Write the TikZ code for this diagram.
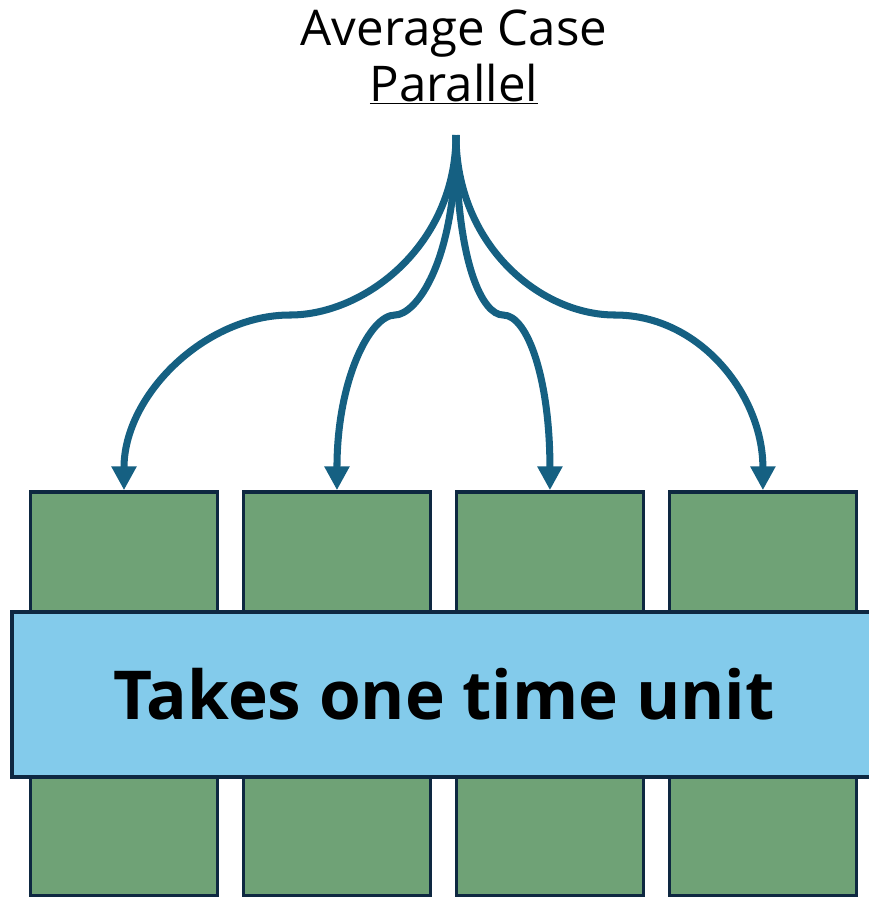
\documentclass[tikz,border=0pt]{standalone}
\usepackage{fontspec}
\setmainfont{Open Sans}
\usetikzlibrary{positioning, arrows.meta}
\definecolor{flowblue}{HTML}{156082}
\definecolor{taskgreen}{HTML}{6FA276}
\definecolor{edgenavy}{HTML}{0E2841}
\definecolor{bandblue}{HTML}{83CBEB}
\tikzset{
    task/.style={
        draw=edgenavy, line width=2.5pt, fill=taskgreen,
        minimum width=4.675cm, minimum height=10.1cm, inner sep=0pt
    },
    band/.style={
        draw=edgenavy, line width=2.5pt, fill=bandblue,
        minimum width=21.6cm, minimum height=4.125cm, inner sep=0pt,
        font=\fontsize{48}{56}\selectfont\bfseries
    },
    heading/.style={
        align=center, inner sep=0pt,
        font=\fontsize{35}{40}\selectfont
    },
    fork/.style={
        -{Triangle[length=17pt, width=17pt]},
        draw=flowblue, line width=5pt
    },
}

\begin{document}
\begin{tikzpicture}[x=0.025cm, y=-0.025cm]
\useasboundingbox (0,0) rectangle (869,897);

% ---- four tasks ----
\node[task] (t1) at (124,694) {};
\node[task, right=0.56cm of t1] (t2) {};
\node[task, right=0.56cm of t2] (t3) {};
\node[task, right=0.56cm of t3] (t4) {};

% ---- band across them ----
\node[band] (unit) at (444,694.5) {Takes one time unit};

% ---- heading ----
\node[heading] (ttl) at (454,57) {Average Case\\\underline{Parallel}};

% ---- forked arrows ----
\coordinate (src) at (456,135);
\draw[fork] (src) .. controls +(0,110) and +(75,0) .. (290,315)
    .. controls +(-85,0) and +(0,-95) .. (t1.north);
\draw[fork] (src) .. controls +(0,130) and +(20,0) .. (395,315)
    .. controls +(-25,0) and +(0,-110) .. (t2.north);
\draw[fork] (src) .. controls +(0,130) and +(-20,0) .. (503,315)
    .. controls +(25,0) and +(0,-110) .. (t3.north);
\draw[fork] (src) .. controls +(0,110) and +(-75,0) .. (615,315)
    .. controls +(85,0) and +(0,-95) .. (t4.north);

\end{tikzpicture}
\end{document}
